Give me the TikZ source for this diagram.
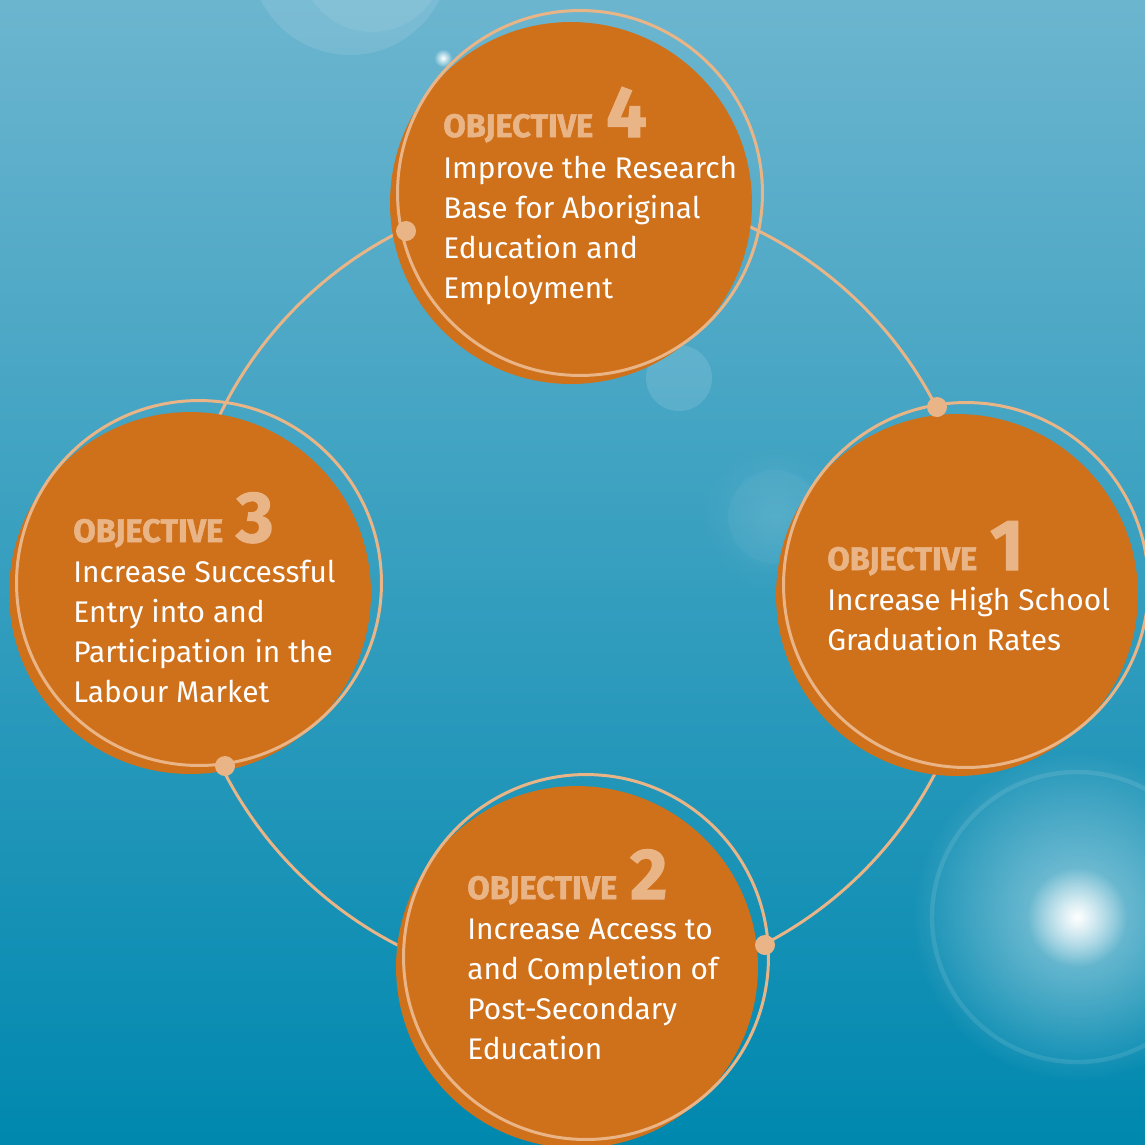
\documentclass[tikz,border=0pt]{standalone}
\usepackage{fontspec}
\setsansfont{Fira Sans}
\newfontfamily\headfont[FakeBold=1.6]{Fira Sans}
\usetikzlibrary{calc,fadings}
\definecolor{skytop}{RGB}{108,181,207}
\definecolor{skymid}{RGB}{14,158,191}
\definecolor{skybot}{RGB}{0,136,175}
\definecolor{rust}{HTML}{CF701B}
\definecolor{peach}{HTML}{EAB586}
\tikzfading[name=glow, inner color=transparent!0, outer color=transparent!100]
\tikzset{
  every node/.style={font=\sffamily},
  disc/.style={circle, fill=rust, minimum size=7.24cm, inner sep=0pt},
  halo/.style={circle, draw=peach, line width=1.7pt, minimum size=7.3cm, inner sep=0pt},
  joint/.style={circle, fill=peach, minimum size=0.4cm, inner sep=0pt},
  link/.style={draw=peach, line width=1.7pt},
  head/.style={anchor=base west, inner sep=0pt, text=peach, font=\headfont\bfseries\fontsize{18.5}{22}\selectfont},
  % multi-line text sits on its last baseline
  body/.style={anchor=base west, inner sep=0pt, text=white, align=left, font=\sffamily\fontsize{17}{22.76}\selectfont},
  bubble/.style={fill=white, fill opacity=#1},
  bubble/.default=0.1,
}
\newcommand{\objnum}[1]{\hspace{0.4em}{\fontsize{41}{41}\selectfont #1}}
\newcommand{\objective}[3]{% #1 name, #2 x, #3 y
  \node[disc] (#1) at (#2,#3) {};
  \node[halo] (#1ring) at ($(#2,#3)+(9,-10)$) {};
}

\begin{document}
\begin{tikzpicture}[x=0.02cm, y=-0.02cm]
  \useasboundingbox (0,0) rectangle (1145,1144);
  \shade[top color=skytop, middle color=skymid, bottom color=skybot] (0,0) rectangle (1145,1144);

  % soft lights in the water
  \begin{scope}
    \clip (0,0) rectangle (1145,1144);
    \fill[bubble=0.1] (350,-45) circle (100);
    \fill[bubble=0.08] (372,-40) circle (72);
    \fill[white, path fading=glow] (443,58) circle (9);
    \fill[bubble=0.12] (679,378) circle (33);
    \fill[white, fill opacity=0.1, path fading=glow] (775,517) circle (75);
    \fill[bubble=0.04] (775,517) circle (47);
    \fill[white, fill opacity=0.5, path fading=glow] (1077,917) circle (165);
    \fill[white, path fading=glow] (1077,917) circle (50);
    \draw[white, opacity=0.1, line width=2.5pt] (1077,917) circle (145);
  \end{scope}

  % the loop joining the four objectives
  \coordinate (hub) at (580,589);
  \draw[link] (hub) circle (400);

  \objective{o4}{571}{203}
  \objective{o1}{957}{595}
  \objective{o3}{190}{593}
  \objective{o2}{577}{967}

  \node[joint] (j4) at (406,231) {};
  \node[joint] (j1) at (937,407) {};
  \node[joint] (j2) at (765,945) {};
  \node[joint] (j3) at (225,766) {};

  \node[head] (h4) at (443,137) {OBJECTIVE\objnum{4}};
  \node[body] (t4) at (443,298) {Improve the Research\\Base for Aboriginal\\Education and\\Employment};

  \node[head] (h1) at (827,570) {OBJECTIVE\objnum{1}};
  \node[body] (t1) at (827,650) {Increase High School\\Graduation Rates};

  \node[head] (h3) at (73,542) {OBJECTIVE\objnum{3}};
  \node[body] (t3) at (73,702) {Increase Successful\\Entry into and\\Participation in the\\Labour Market};

  \node[head] (h2) at (467,899) {OBJECTIVE\objnum{2}};
  \node[body] (t2) at (467,1059) {Increase Access to\\and Completion of\\Post-Secondary\\Education};
\end{tikzpicture}
\end{document}
